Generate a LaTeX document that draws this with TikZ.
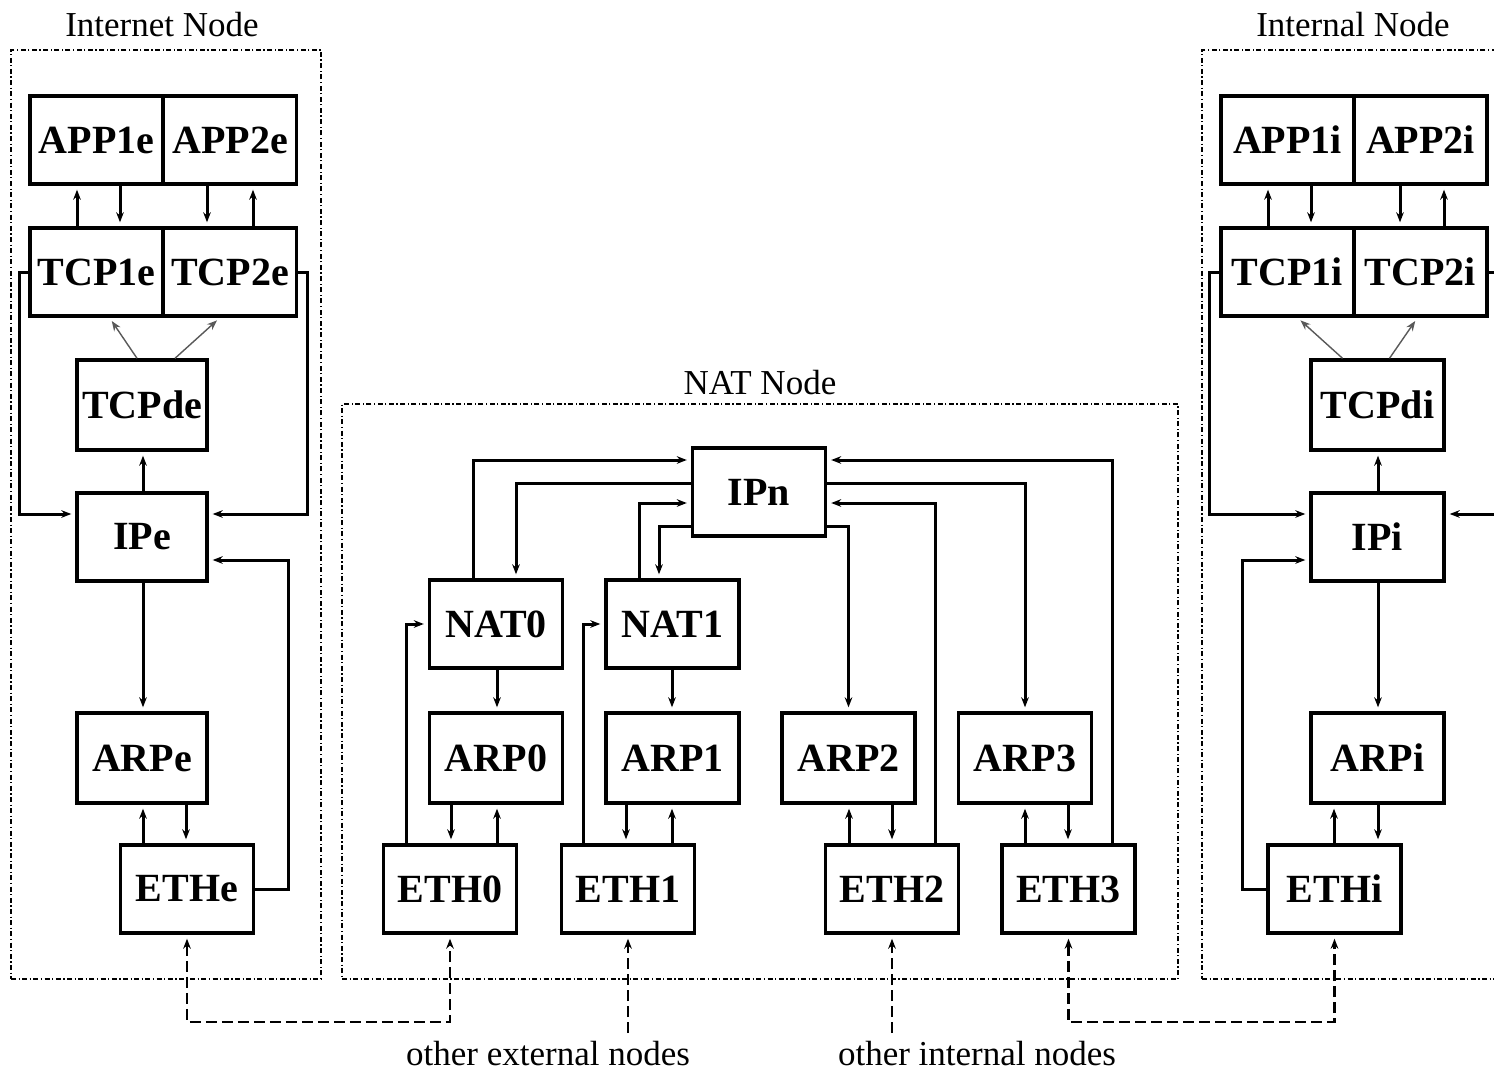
\documentclass[tikz,border=0pt]{standalone}
\usepackage{fontspec}
\setmainfont{Liberation Serif}
\usetikzlibrary{calc,arrows.meta}
\newcommand\vcol[4]{\coordinate (vc) at (#3,0); \draw[#4] (#1 -| vc) -- (#2 -| vc);}
\begin{document}
\begin{tikzpicture}[x=0.5pt,y=-0.5pt,
  box/.style={draw,line width=1.7pt,minimum width=66.5pt,minimum height=44pt,inner sep=0pt,font=\fontsize{20}{24}\selectfont\bfseries},
  ttl/.style={font=\fontsize{17.5}{21}\selectfont,anchor=base,inner sep=0pt},
  arr/.style={line width=1.5pt,-{Stealth[length=5pt,width=3.8pt]},shorten >=2pt},
  thinarr/.style={line width=0.7pt,draw=black!65,-{Stealth[length=5pt,width=3.8pt]},shorten >=2pt},
  frame/.style={draw,line width=1.2pt,dash pattern=on 2.5pt off 1.25pt on 0.6pt off 1.25pt,inner sep=0pt},
  dsh/.style={line width=1.4pt,dash pattern=on 5.5pt off 2.5pt},
  dsharr/.style={dsh,{Stealth[length=5pt,width=3.8pt]}-{Stealth[length=5pt,width=3.8pt]},shorten >=2pt,shorten <=2pt},
  dshone/.style={dsh,-{Stealth[length=5pt,width=3.8pt]},shorten >=2pt}
]
\clip (0,0) rectangle (1494,1070);
\fill[white] (0,0) rectangle (1494,1070);

% frames and titles
\node[frame,minimum width=155pt,minimum height=464.5pt] (fInet) at (166,514.5) {};
\node[frame,minimum width=418pt,minimum height=287.5pt] (fNat) at (760,691.5) {};
\node[frame,minimum width=155pt,minimum height=464.5pt] (fIntl) at (1357,514.5) {};
\node[ttl] (tInet) at (162,37) {Internet Node};
\node[ttl] (tNat) at (760,394) {NAT Node};
\node[ttl] (tIntl) at (1353,37) {Internal Node};

% Internet node
\node[box] (APP1e) at (96.5,140) {APP1e};
\node[box] (APP2e) at (230,140) {APP2e};
\node[box] (TCP1e) at (96.5,272) {TCP1e};
\node[box] (TCP2e) at (230,272) {TCP2e};
\node[box,minimum width=65pt,minimum height=45pt] (TCPde) at (142,405) {TCPde};
\node[box,minimum width=65pt] (IPe) at (142,537) {IPe};
\node[box,minimum width=65pt,minimum height=45pt] (ARPe) at (142,758) {ARPe};
\node[box] (ETHe) at (187,889) {ETHe};

% Internal node
\node[box] (APP1i) at (1287.5,140) {APP1i};
\node[box] (APP2i) at (1420.5,140) {APP2i};
\node[box] (TCP1i) at (1287.5,272) {TCP1i};
\node[box] (TCP2i) at (1420.5,272) {TCP2i};
\node[box,minimum height=45pt] (TCPdi) at (1377.5,405) {TCPdi};
\node[box] (IPi) at (1377.5,537) {IPi};
\node[box,minimum height=45pt] (ARPi) at (1377.5,758) {ARPi};
\node[box] (ETHi) at (1334.5,889) {ETHi};

% NAT node
\node[box] (IPn) at (759,492) {IPn};
\node[box] (NAT0) at (496,624) {NAT0};
\node[box] (NAT1) at (672.5,624) {NAT1};
\node[box,minimum height=45pt] (ARP0) at (496,758) {ARP0};
\node[box,minimum height=45pt] (ARP1) at (672.5,758) {ARP1};
\node[box,minimum height=45pt] (ARP2) at (848.5,758) {ARP2};
\node[box,minimum height=45pt] (ARP3) at (1025,758) {ARP3};
\node[box] (ETH0) at (450,889) {ETH0};
\node[box] (ETH1) at (628,889) {ETH1};
\node[box] (ETH2) at (892,889) {ETH2};
\node[box] (ETH3) at (1068.5,889) {ETH3};

% Internet node connectors
\vcol{TCP1e.north}{APP1e.south}{77}{arr}
\vcol{APP1e.south}{TCP1e.north}{120}{arr}
\vcol{APP2e.south}{TCP2e.north}{207}{arr}
\vcol{TCP2e.north}{APP2e.south}{253}{arr}
\draw[thinarr] ($(TCPde.north)+(-5,0)$) -- ($(TCP1e.south)+(13,0)$);
\draw[thinarr] ($(TCPde.north)+(33,0)$) -- ($(TCP2e.south)+(-10,0)$);
\vcol{IPe.north}{TCPde.south}{143}{arr}
\draw[arr] (TCP1e.west) -- ++(-9,0) |- ($(IPe.west)+(0,-23)$);
\draw[arr] (TCP2e.east) -- ++(9,0) |- ($(IPe.east)+(0,-23)$);
\draw[arr] (ETHe.east) -- ++(33,0) |- ($(IPe.east)+(0,23)$);
\vcol{IPe.south}{ARPe.north}{143}{arr}
\vcol{ETHe.north}{ARPe.south}{143}{arr}
\vcol{ARPe.south}{ETHe.north}{186}{arr}

% Internal node connectors
\vcol{TCP1i.north}{APP1i.south}{1268}{arr}
\vcol{APP1i.south}{TCP1i.north}{1311}{arr}
\vcol{APP2i.south}{TCP2i.north}{1400}{arr}
\vcol{TCP2i.north}{APP2i.south}{1444}{arr}
\draw[thinarr] ($(TCPdi.north)+(-35,0)$) -- ($(TCP1i.south)+(10,0)$);
\draw[thinarr] ($(TCPdi.north)+(12,0)$) -- ($(TCP2i.south)+(-3,0)$);
\vcol{IPi.north}{TCPdi.south}{1378}{arr}
\draw[arr] (TCP1i.west) -- ++(-10,0) |- ($(IPi.west)+(0,-23)$);
\draw[arr] (TCP2i.east) -- ++(9,0) |- ($(IPi.east)+(0,-23)$);
\draw[arr] (ETHi.west) -- ++(-24,0) |- ($(IPi.west)+(0,23)$);
\vcol{IPi.south}{ARPi.north}{1378}{arr}
\vcol{ETHi.north}{ARPi.south}{1334}{arr}
\vcol{ARPi.south}{ETHi.north}{1378}{arr}

% NAT node connectors
\coordinate (c406) at (406,0);
\draw[arr] (ETH0.north -| c406) |- (NAT0.west);
\vcol{ARP0.south}{ETH0.north}{451}{arr}
\vcol{ETH0.north}{ARP0.south}{497}{arr}
\vcol{NAT0.south}{ARP0.north}{497}{arr}
\coordinate (c583) at (583,0);
\draw[arr] (ETH1.north -| c583) |- (NAT1.west);
\vcol{ARP1.south}{ETH1.north}{626}{arr}
\vcol{ETH1.north}{ARP1.south}{672}{arr}
\vcol{NAT1.south}{ARP1.north}{672}{arr}
\vcol{ETH2.north}{ARP2.south}{849}{arr}
\vcol{ARP2.south}{ETH2.north}{892}{arr}
\coordinate (c935) at (935,0);
\draw[arr] (ETH2.north -| c935) |- ($(IPn.east)+(0,11)$);
\vcol{ETH3.north}{ARP3.south}{1025}{arr}
\vcol{ARP3.south}{ETH3.north}{1068}{arr}
\coordinate (c1112) at (1112,0);
\draw[arr] (ETH3.north -| c1112) |- ($(IPn.east)+(0,-32)$);
\draw[arr] ($(IPn.east)+(0,34)$) -| (ARP2.north);
\draw[arr] ($(IPn.east)+(0,-9)$) -| (ARP3.north);
\draw[arr] ($(NAT0.north)+(-23,0)$) |- ($(IPn.west)+(0,-32)$);
\draw[arr] ($(IPn.west)+(0,-9)$) -| ($(NAT0.north)+(20,0)$);
\draw[arr] ($(NAT1.north)+(-33.5,0)$) |- ($(IPn.west)+(0,11)$);
\draw[arr] ($(IPn.west)+(0,34)$) -| ($(NAT1.north)+(-13.5,0)$);

% external links
\coordinate (by) at (0,1022);
\coordinate (ey) at (0,1033);
\draw[dsharr] (ETHe.south) -- (ETHe.south |- by) -| (ETH0.south);
\draw[dsharr] (ETH3.south) -- (ETH3.south |- by) -| (ETHi.south);
\draw[dshone] (ETH1.south |- ey) -- (ETH1.south);
\draw[dshone] (ETH2.south |- ey) -- (ETH2.south);
\node[ttl] (lext) at (548,1065) {other external nodes};
\node[ttl] (lint) at (977,1065) {other internal nodes};
\end{tikzpicture}
\end{document}
